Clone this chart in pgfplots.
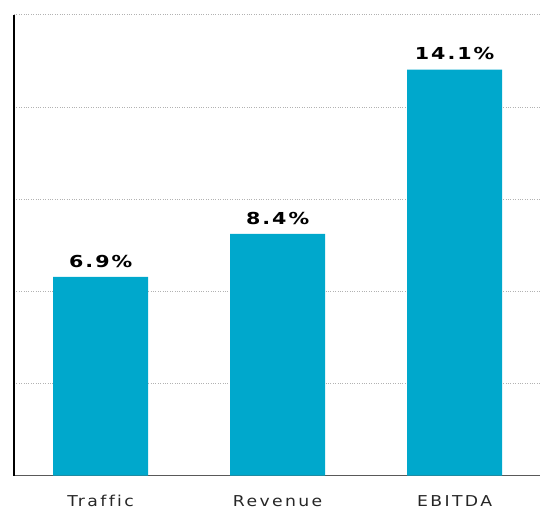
\documentclass[border=0pt]{standalone}
\usepackage{pgfplots}
\pgfplotsset{compat=1.18}
\usepackage{fontspec}
\setmainfont{DejaVu Sans}
\newfontfamily\tickfont[LetterSpace=16,FakeStretch=1.15,Ligatures=NoCommon]{DejaVu Sans}
\newfontfamily\valfont[LetterSpace=12,FakeStretch=1.25,Ligatures=NoCommon]{DejaVu Sans Bold}
\definecolor{barblue}{RGB}{0,168,204}
\begin{document}
\begin{tikzpicture}
\begin{axis}[
  scale only axis, width=526pt, height=461pt,
  xmin=-0.49, xmax=2.48, ymin=0, ymax=16,
  axis x line=bottom, axis y line=left,
  x axis line style={-, draw=black!65, line width=1pt},
  y axis line style={-, draw=black, line width=1.6pt},
  xtick=data, xticklabels={Traffic,Revenue,EBITDA},
  xticklabel style={font=\tickfont\fontsize{15}{18}\selectfont, text=black!85, yshift=-16pt},
  ytick={3.2,6.4,9.6,12.8,16}, yticklabels={},
  major tick length=0pt,
  ymajorgrids, grid style={dotted, draw=black!30, line width=1pt},
  ybar, bar width=95pt,
  /pgf/number format/assume math mode=true,
  nodes near coords={\pgfmathprintnumber[fixed,precision=1,fixed zerofill,assume math mode=true]{\pgfplotspointmeta}\%},
  nodes near coords style={font=\valfont\fontsize{16.5}{20}\selectfont, text=black, yshift=6pt},
  clip=false,
]
\addplot[fill=barblue, draw=none] coordinates {(0,6.9) (1,8.4) (2,14.1)};
\end{axis}
\path (current axis.south west) ++(-14pt,-33pt) rectangle ++(540pt,509pt);
\end{tikzpicture}
\end{document}
